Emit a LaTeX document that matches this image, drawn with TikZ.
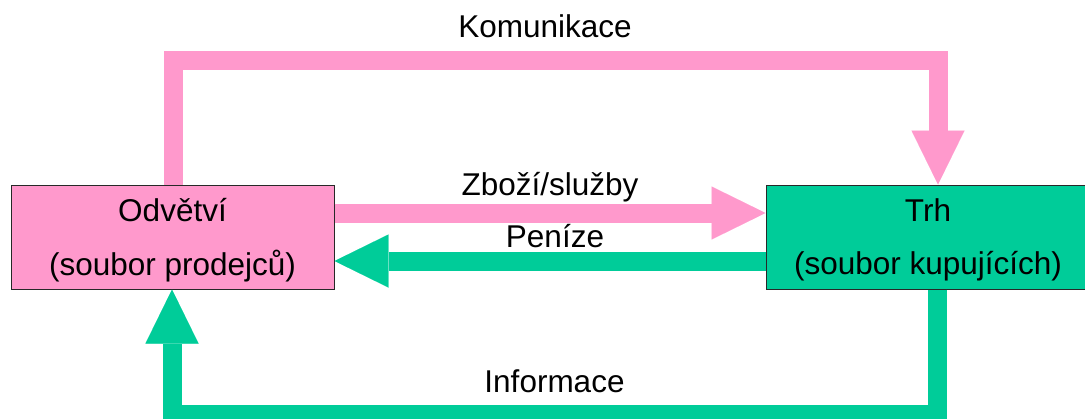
\documentclass[tikz,border=0pt]{standalone}
\usepackage{fontspec}
\setmainfont{Liberation Sans}
\usetikzlibrary{arrows.meta}

\definecolor{flowpink}{RGB}{255,153,204}
\definecolor{flowgreen}{RGB}{0,204,153}
\definecolor{edgegray}{RGB}{40,40,40}

\tikzset{
  box/.style={draw=edgegray, line width=1pt, minimum height=104pt, inner sep=0pt},
  caption/.style={anchor=base, inner sep=0pt, text=black,
    font=\fontsize{31.5}{37}\selectfont},
  flow/.style={line width=19pt, line join=miter, line cap=butt,
    -{Triangle[width=53pt,length=54pt,line width=0.01pt]}},
  pinkflow/.style={flow, draw=flowpink},
  greenflow/.style={flow, draw=flowgreen},
}

\begin{document}
\begin{tikzpicture}[x=1pt,y=-1pt]
  \useasboundingbox (0,0) rectangle (1085,418);

  % the two blocks
  \node[box, fill=flowpink, minimum width=323pt] (odv) at (172.5,237) {};
  \node[box, fill=flowgreen, minimum width=326pt] (trh) at (929,237) {};

  % block texts
  \node[caption] (odv1) at (172.5,221) {Odvětví};
  \node[caption] (odv2) at (172.5,275) {(soubor prodejců)};
  \node[caption] (trh1) at (928,221) {Trh};
  \node[caption] (trh2) at (928,274) {(soubor kupujících)};

  % corner points of the outer loops
  \coordinate (kl) at (173,60);
  \coordinate (kr) at (938,60);
  \coordinate (il) at (172,414);
  \coordinate (ir) at (937,414);
  \coordinate (zb) at (0,213);
  \coordinate (pn) at (0,261);

  % flows
  \draw[pinkflow] (odv.north -| kl) -- (kl) -- (kr) -- (trh.north -| kr);
  \draw[greenflow] (trh.south -| ir) -- (ir) -- (il) -- (odv.south -| il);
  \draw[pinkflow] (odv.east |- zb) -- (trh.west |- zb);
  \draw[greenflow] (trh.west |- pn) -- (odv.east |- pn);

  % flow labels
  \node[caption] (kom) at (545,37) {Komunikace};
  \node[caption] (zbo) at (550,195) {Zboží/služby};
  \node[caption] (pen) at (555,247) {Peníze};
  \node[caption] (inf) at (554.5,392) {Informace};
\end{tikzpicture}
\end{document}
